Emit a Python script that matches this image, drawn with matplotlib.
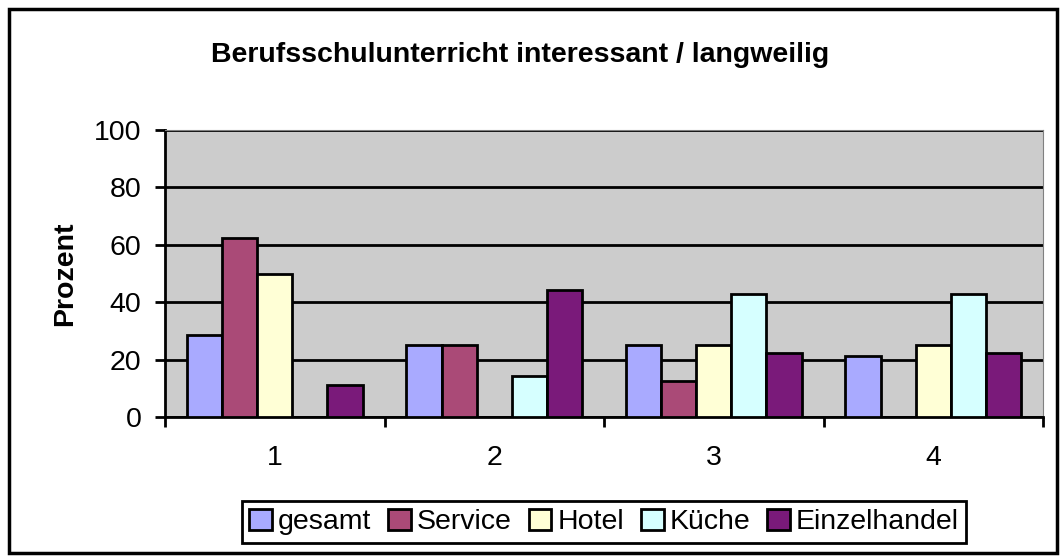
import numpy as np
import matplotlib.pyplot as plt
from matplotlib.patches import Rectangle

plt.rcParams['font.family'] = ['Liberation Sans', 'DejaVu Sans']

categories = ['1', '2', '3', '4']
series = ['gesamt', 'Service', 'Hotel', 'Küche', 'Einzelhandel']
gesamt = [28.6, 25.0, 25.0, 21.4]
service = [62.5, 25.0, 12.5, 0]
hotel = [50.0, 0, 25.0, 25.0]
kueche = [0, 14.3, 42.9, 42.9]
einzelhandel = [11.1, 44.4, 22.2, 22.2]
colors = ['#A9AAFF', '#AA4A77', '#FFFFD6', '#D6FFFF', '#7A1A7A']

values = [gesamt, service, hotel, kueche, einzelhandel]

fs = 20.5

fig = plt.figure(figsize=(10.61, 5.56), dpi=100)
ax = fig.add_axes([165 / 1061, 139 / 556, 878 / 1061, 287 / 556])
ax.set_facecolor('#CCCCCC')

x = np.arange(len(categories))
w = 0.16
for k, (name, vals, c) in enumerate(zip(series, values, colors)):
    ax.bar(x + (k - 2) * w, vals, width=w, color=c, edgecolor='black',
           linewidth=2, label=name, zorder=3)

ax.set_xlim(-0.5, 3.5)
ax.set_ylim(0, 100)
ax.set_yticks(range(0, 101, 20))
ax.yaxis.grid(True, color='black', linewidth=2, zorder=1)
ax.set_axisbelow(True)

ax.set_xticks(x)
ax.set_xticklabels(categories)
ax.set_xticks(np.arange(-0.5, 4, 1), minor=True)
ax.tick_params(axis='x', which='major', length=0, pad=20, labelsize=fs)
ax.tick_params(axis='x', which='minor', length=7, width=2, direction='out')
ax.tick_params(axis='y', length=7, width=2, direction='out', labelsize=fs, pad=10)

ax.spines['left'].set_linewidth(2)
ax.spines['bottom'].set_linewidth(2)
ax.spines['top'].set_color('#808080')
ax.spines['right'].set_color('#808080')

ax.set_ylabel('Prozent', fontsize=fs, fontweight='bold', labelpad=11)
fig.text(0.49, 1 - 55 / 556, 'Berufsschulunterricht interessant / langweilig',
         ha='center', va='center', fontsize=fs, fontweight='bold')

leg = fig.legend(loc='center', bbox_to_anchor=(604 / 1061, 1 - 522 / 556), ncol=5,
                 fontsize=fs, frameon=True, fancybox=False, edgecolor='black',
                 framealpha=1, handlelength=0.8, handleheight=0.8,
                 handletextpad=0.2, columnspacing=0.6, borderpad=0.25,
                 borderaxespad=0)
leg.get_frame().set_linewidth(2)

fig.patches.append(Rectangle((9 / 1061, 3 / 556), 1048 / 1061, 544 / 556,
                             transform=fig.transFigure, fill=False,
                             edgecolor='black', linewidth=2.5))

fig.savefig('out.png', dpi=100)
